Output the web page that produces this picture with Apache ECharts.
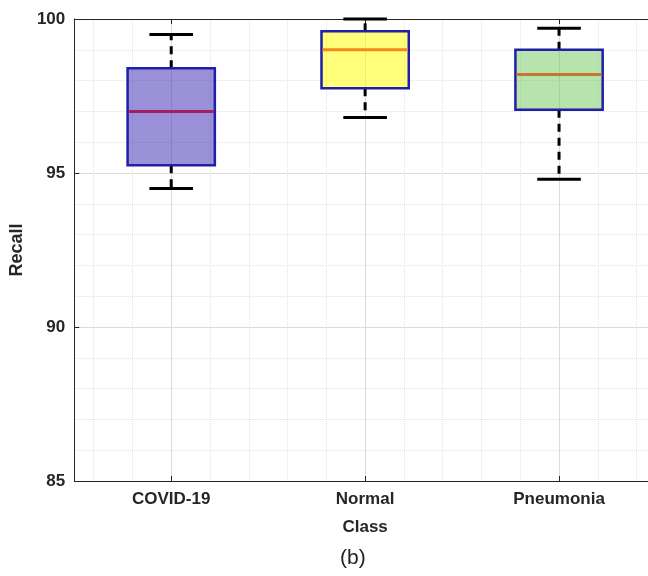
<!DOCTYPE html>
<html>
<head>
<meta charset="utf-8">
<script src="https://cdn.jsdelivr.net/npm/echarts@6.0.0/dist/echarts.min.js"></script>
<style>
  html, body { margin: 0; padding: 0; background: #fff; overflow: hidden; }
  /* the plot runs a little past the right edge of the picture */
  #main { width: 656px; height: 576px; }
</style>
</head>
<body>
<div id="main"></div>
<script>
// box plot values
const categories = ['COVID-19', 'Normal', 'Pneumonia'];
const lowerWhisker = [94.5, 96.8, 94.8];
const q1 = [95.25, 97.75, 97.05];
const median = [97.0, 99.0, 98.2];
const q3 = [98.4, 99.6, 99.0];
const upperWhisker = [99.5, 100.0, 99.7];
const yTicks = [85, 90, 95, 100];

// styles
const fills = ['rgba(53,35,177,0.5)', 'rgba(255,255,0,0.52)', 'rgba(111,199,91,0.5)'];
const medianColors = ['#a31f5e', '#f38a1d', '#c5762f'];
const boxBorder = '#1f1fa8';
const axisColor = '#262626';
const font = "'Liberation Sans', Arial, Helvetica, sans-serif";

const data = categories.map((c, i) => [i, lowerWhisker[i], q1[i], median[i], q3[i], upperWhisker[i]]);

const chart = echarts.init(document.getElementById('main'));

function renderBox (params, api) {
  const x = api.value(0);
  const band = api.size([1, 0])[0];
  const boxW = band * 0.45;
  const capW = band * 0.225;
  const pLow = api.coord([x, api.value(1)]);
  const pQ1 = api.coord([x, api.value(2)]);
  const pMed = api.coord([x, api.value(3)]);
  const pQ3 = api.coord([x, api.value(4)]);
  const pHigh = api.coord([x, api.value(5)]);
  const cx = pMed[0];
  const i = params.dataIndex;
  const whisker = { stroke: '#000', lineWidth: 3, lineDash: [8, 6] };
  const cap = { stroke: '#000', lineWidth: 3 };
  return {
    type: 'group',
    children: [
      { type: 'line', shape: { x1: cx, y1: pQ3[1], x2: cx, y2: pHigh[1] }, style: whisker },
      { type: 'line', shape: { x1: cx, y1: pQ1[1], x2: cx, y2: pLow[1] }, style: whisker },
      { type: 'line', shape: { x1: cx - capW / 2, y1: pHigh[1], x2: cx + capW / 2, y2: pHigh[1] }, style: cap },
      { type: 'line', shape: { x1: cx - capW / 2, y1: pLow[1], x2: cx + capW / 2, y2: pLow[1] }, style: cap },
      {
        type: 'rect',
        shape: { x: cx - boxW / 2, y: pQ3[1], width: boxW, height: pQ1[1] - pQ3[1] },
        style: { fill: fills[i], stroke: boxBorder, lineWidth: 2.5 }
      },
      {
        type: 'line',
        shape: { x1: cx - boxW / 2 + 1, y1: pMed[1], x2: cx + boxW / 2 - 1, y2: pMed[1] },
        style: { stroke: medianColors[i], lineWidth: 3 }
      }
    ]
  };
}

const option = {
  animation: false,
  backgroundColor: '#fff',
  grid: { left: 72, top: 19, right: 0, bottom: 95 },
  xAxis: [
    {
      type: 'category',
      data: categories,
      boundaryGap: true,
      name: 'Class',
      nameLocation: 'middle',
      nameGap: 38,
      nameTextStyle: { fontFamily: font, fontWeight: 'bold', fontSize: 17, color: axisColor },
      axisLine: { show: true, lineStyle: { color: axisColor, width: 1 } },
      axisTick: { show: true, inside: true, alignWithLabel: true, length: 5, lineStyle: { color: axisColor } },
      axisLabel: { fontFamily: font, fontWeight: 'bold', fontSize: 17, color: axisColor, margin: 10 },
      splitLine: { show: false }
    },
    {
      // grid lines and top border
      type: 'value',
      position: 'top',
      min: 0.5,
      max: 3.5,
      minInterval: 1,
      maxInterval: 1,
      axisLine: { show: true, lineStyle: { color: axisColor, width: 1 } },
      axisTick: { show: true, inside: true, length: 5, lineStyle: { color: axisColor } },
      axisLabel: { show: false },
      splitLine: { show: true, lineStyle: { color: '#dcdcdc', width: 1 } },
      minorTick: { show: false, splitNumber: 5 },
      minorSplitLine: { show: true, lineStyle: { color: '#e2e2e2', width: 1, type: 'dotted' } }
    }
  ],
  yAxis: {
    type: 'value',
    min: yTicks[0],
    max: yTicks[yTicks.length - 1],
    interval: 5,
    name: 'Recall',
    nameLocation: 'middle',
    nameGap: 47,
    nameRotate: 90,
    nameTextStyle: { fontFamily: font, fontWeight: 'bold', fontSize: 18, color: axisColor },
    axisLine: { show: true, lineStyle: { color: axisColor, width: 1 } },
    axisTick: { show: true, inside: true, length: 5, lineStyle: { color: axisColor } },
    axisLabel: { fontFamily: font, fontWeight: 'bold', fontSize: 17, color: axisColor, margin: 9 },
    splitLine: { show: true, lineStyle: { color: '#dcdcdc', width: 1 } },
    minorTick: { show: false, splitNumber: 5 },
    minorSplitLine: { show: true, lineStyle: { color: '#e2e2e2', width: 1, type: 'dotted' } }
  },
  graphic: [
    {
      type: 'text',
      left: 340,
      top: 548,
      style: { text: '(b)', fontFamily: font, fontSize: 21, fill: '#222' }
    }
  ],
  series: [
    {
      type: 'custom',
      xAxisIndex: 0,
      renderItem: renderBox,
      encode: { x: 0, y: [1, 2, 3, 4, 5] },
      clip: false,
      data: data
    }
  ]
};

chart.setOption(option);
</script>
</body>
</html>
